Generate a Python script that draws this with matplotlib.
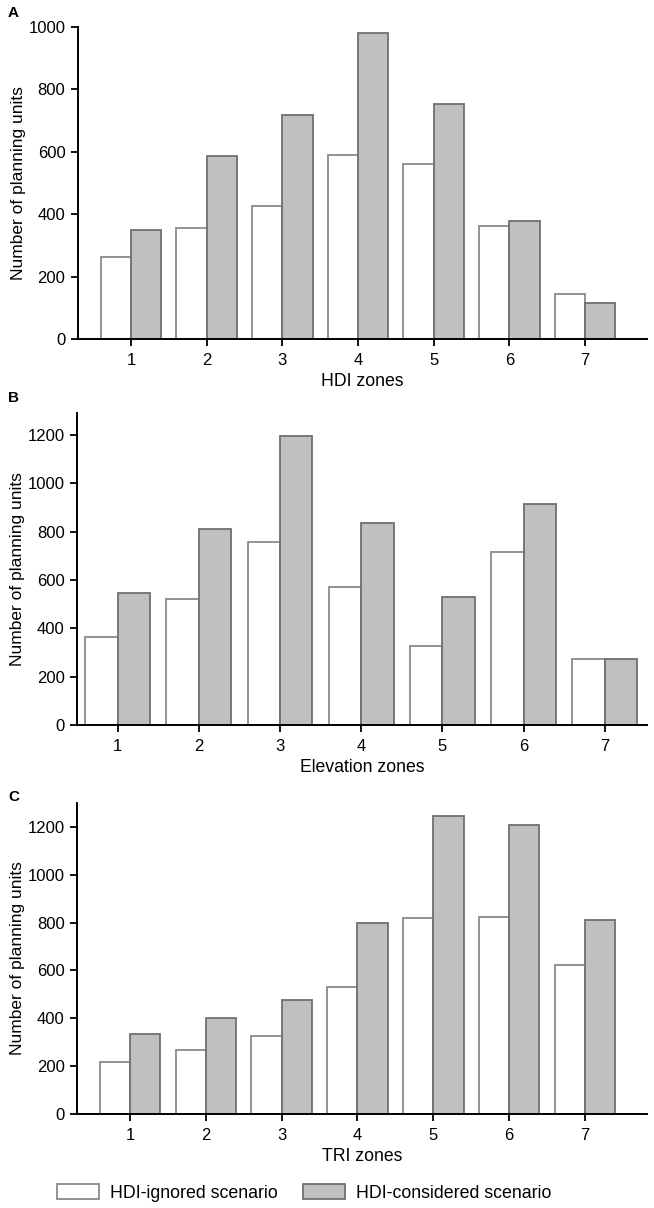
import matplotlib.pyplot as plt
from matplotlib.patches import Patch
import numpy as np

plt.rcParams['font.family'] = ['Liberation Sans', 'DejaVu Sans']

zones = [1, 2, 3, 4, 5, 6, 7]

hdi_ignored = [264, 357, 425, 589, 561, 363, 144]
hdi_considered = [349, 588, 719, 981, 753, 377, 116]

elev_ignored = [365, 519, 755, 570, 327, 717, 271]
elev_considered = [546, 810, 1193, 834, 528, 912, 274]

tri_ignored = [216, 267, 327, 530, 821, 823, 624]
tri_considered = [333, 402, 475, 798, 1245, 1206, 809]

panels = [
    ("A", "HDI zones", hdi_ignored, hdi_considered),
    ("B", "Elevation zones", elev_ignored, elev_considered),
    ("C", "TRI zones", tri_ignored, tri_considered),
]

W, H = 654, 1208
# axes boxes in pixels: left, right, top, bottom
boxes = [(78, 647, 27, 339), (77, 647, 413, 725), (77, 647, 803, 1114)]
xlims = [(0.3, 7.82), (0.5, 7.52), (0.3, 7.82)]
ylims = [(0, 1000), (0, 1290), (0, 1300)]
yticks = [np.arange(0, 1001, 200), np.arange(0, 1201, 200), np.arange(0, 1201, 200)]
label_pos = [(8, 13), (8, 398), (8, 797)]

white_edge = "#8a8a8a"
gray_edge = "#707070"
gray_fill = "#c0c0c0"

fig = plt.figure(figsize=(W / 100, H / 100), dpi=100)

for i, (tag, xlabel, ign, con) in enumerate(panels):
    l, r, t, b = boxes[i]
    ax = fig.add_axes([l / W, 1 - b / H, (r - l) / W, (b - t) / H])
    x = np.array(zones)
    w = 0.4
    ax.bar(x - w / 2, ign, width=w, color="white", edgecolor=white_edge, linewidth=1.3)
    ax.bar(x + w / 2, con, width=w, color=gray_fill, edgecolor=gray_edge, linewidth=1.3)
    ax.set_xlim(*xlims[i])
    ax.set_ylim(*ylims[i])
    ax.set_xticks(zones)
    ax.set_yticks(yticks[i])
    for s in ["top", "right"]:
        ax.spines[s].set_visible(False)
    for s in ["left", "bottom"]:
        ax.spines[s].set_linewidth(1.4)
    ax.tick_params(axis="both", direction="out", length=5, width=1.3, labelsize=12)
    ax.tick_params(axis="x", pad=5)
    ax.tick_params(axis="y", pad=4)
    ax.set_xlabel(xlabel, fontsize=12.7, labelpad=4)
    ax.set_ylabel("Number of planning units", fontsize=12.5, labelpad=2)
    fig.text(label_pos[i][0] / W, 1 - label_pos[i][1] / H, tag, fontsize=11,
             fontweight="bold", ha="left", va="center")

handles = [
    Patch(facecolor="white", edgecolor=white_edge, linewidth=1.3, label="HDI-ignored scenario"),
    Patch(facecolor=gray_fill, edgecolor=gray_edge, linewidth=1.3, label="HDI-considered scenario"),
]
fig.legend(handles=handles, loc="center", bbox_to_anchor=(304 / W, 1 - 1193 / H), ncol=2,
           frameon=False, fontsize=12.8, handlelength=2.4, handleheight=0.9,
           columnspacing=1.4, handletextpad=0.6)

fig.savefig("out.png", dpi=100)
